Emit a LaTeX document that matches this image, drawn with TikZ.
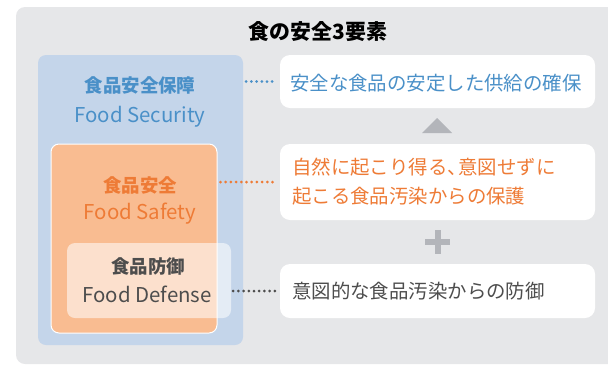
\documentclass[tikz,border=0pt]{standalone}
\usepackage{fontspec}
\setmainfont{Noto Sans CJK JP}
\usetikzlibrary{fit}
\definecolor{bggray}{HTML}{E6E7E9}
\definecolor{secfill}{HTML}{C4D5EA}
\definecolor{secblue}{HTML}{4A90C8}
\definecolor{saffill}{HTML}{F9BC91}
\definecolor{saforange}{HTML}{EE7B36}
\definecolor{darktext}{HTML}{4D4D4D}
\definecolor{markgray}{HTML}{B3B5BA}
\begin{document}
\begin{tikzpicture}[x=1bp,y=-1bp,
  region/.style={inner sep=0pt, rounded corners=8bp},
  whitebox/.style={inner sep=0pt, rounded corners=10bp, fill=white},
  head/.style={font=\bfseries\fontsize{18.5}{22}\selectfont, inner sep=0pt},
  eng/.style={font=\fontsize{20.5}{24}\selectfont, inner sep=0pt},
  body/.style={font=\fontsize{19.5}{29}\selectfont, inner sep=0pt, anchor=west, align=left},
  dotline/.style={line width=3bp, line cap=round, dash pattern=on 0pt off 5.2bp}
]
\useasboundingbox (0,0) rectangle (608,365);
\clip (0,0) rectangle (608,365);
\fill[bggray, rounded corners=9bp] (16,7) rectangle (640,364);

\node[font=\bfseries\fontsize{21}{25}\selectfont, inner sep=0pt] (title) at (318,32) {食の安全3要素};

% nested regions
\node[region, fill=secfill, fit={(38,55)(243,345)}] (sec) {};
\node[region, fill=saffill, draw=white, line width=1bp, fit={(51,144)(217,333)}] (saf) {};
\node[region, fill=white, fill opacity=0.55, fit={(67,243)(231,318)}] (def) {};

\node[head, text=secblue] (sech) at (140,85) {食品安全保障};
\node[eng, text=secblue] (sece) at (140,117) {Food Security};
\node[head, text=saforange] (safh) at (140,185) {食品安全};
\node[eng, text=saforange] (safe) at (140,214) {Food Safety};
\node[head, text=darktext] (defh) at (148,266) {食品防御};
\node[eng, text=darktext] (defe) at (147,294) {Food Defense};

% description boxes
\node[whitebox, fit={(280,55)(595,108)}] (b1) {};
\node[whitebox, fit={(280,144)(595,220)}] (b2) {};
\node[whitebox, fit={(280,264)(595,318)}] (b3) {};

\node[body, text=secblue] (t1) at (290,83) {安全な食品の安定した供給の確保};
\node[body, text=saforange] (t2) at (292,182) {自然に起こり得る、\hspace{-0.45em}意図せずに\\起こる食品汚染からの保護};
\node[body, text=darktext] (t3) at (292,291) {意図的な食品汚染からの防御};

% dotted connectors
\draw[dotline, secblue] ([xshift=3bp]sec.east |- b1.west) -- ([xshift=-3bp]b1.west);
\draw[dotline, saforange] ([xshift=3bp]saf.east |- b2.west) -- ([xshift=-3bp]b2.west);
\draw[dotline, darktext] ([xshift=2bp]def.east |- b3.west) -- ([xshift=-3bp]b3.west);

% triangle and plus
\fill[markgray] (422,133) -- (452,133) -- (437,118) -- cycle;
\draw[markgray, line width=6bp] (425,242) -- (450,242);
\draw[markgray, line width=6bp] (437.5,230) -- (437.5,254);
\end{tikzpicture}
\end{document}
